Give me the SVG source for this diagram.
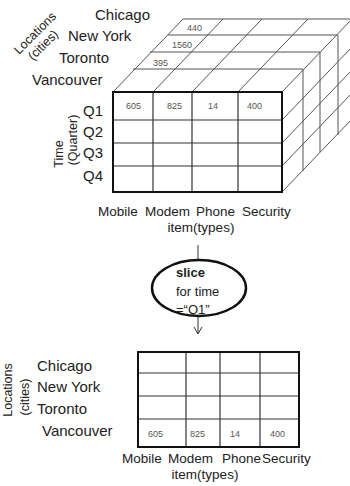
<svg xmlns="http://www.w3.org/2000/svg" width="350" height="486" viewBox="0 0 350 486">
<defs>
<style>
text{font-family:"Liberation Sans",Arial,sans-serif;fill:#222}
.lbl{font-size:15px}
.ax{font-size:12.5px}
.itm{font-size:13.5px}
.val{font-size:9px;fill:#555}
.thin{stroke:#555;stroke-width:1;fill:none}
.grid{stroke:#333;stroke-width:1.2;fill:none}
.frame{stroke:#111;stroke-width:2;fill:none}
.conn{stroke:#333;stroke-width:1;fill:none}
</style>
<marker id="arr" viewBox="0 0 10 10" refX="9" refY="5" markerWidth="10" markerHeight="10" markerUnits="userSpaceOnUse" orient="auto">
<path d="M2,1 L9,5 L2,9" fill="none" stroke="#333" stroke-width="1"/>
</marker>
</defs>
<rect width="350" height="486" fill="#fff"/>

<g id="cube">
<!-- top face -->
<g class="thin">
<line x1="133" y1="69" x2="303" y2="69"/>
<line x1="150" y1="52" x2="320" y2="52"/>
<line x1="168" y1="35" x2="338" y2="35"/>
<line x1="183" y1="19" x2="353" y2="19"/>
<line x1="113" y1="92" x2="183" y2="19"/>
<line x1="153" y1="92" x2="223" y2="19"/>
<line x1="192" y1="92" x2="262" y2="19"/>
<line x1="238" y1="92" x2="308" y2="19"/>
<line x1="282" y1="92" x2="352" y2="19"/>
<!-- right face -->
<line x1="303" y1="69" x2="303" y2="171"/>
<line x1="320" y1="52" x2="320" y2="152"/>
<line x1="338" y1="35" x2="338" y2="135"/>
<line x1="282" y1="120" x2="352" y2="47"/>
<line x1="282" y1="143" x2="352" y2="70"/>
<line x1="282" y1="166" x2="352" y2="93"/>
<line x1="282" y1="192" x2="352" y2="119"/>
</g>
<!-- front face -->
<g class="grid">
<line x1="153" y1="92" x2="153" y2="192"/>
<line x1="192" y1="92" x2="192" y2="192"/>
<line x1="238" y1="92" x2="238" y2="192"/>
<line x1="113" y1="120" x2="282" y2="120"/>
<line x1="113" y1="143" x2="282" y2="143"/>
<line x1="113" y1="166" x2="282" y2="166"/>
</g>
<rect class="frame" x="113" y="92" width="169" height="100"/>
<text class="val" x="187" y="31">440</text>
<text class="val" x="172" y="48">1560</text>
<text class="val" x="153" y="66">395</text>
<text class="val" x="126" y="109">605</text>
<text class="val" x="167" y="109">825</text>
<text class="val" x="208" y="109">14</text>
<text class="val" x="247" y="109">400</text>
</g>

<g id="cube-labels">
<text class="lbl" x="95" y="20">Chicago</text>
<text class="lbl" x="68" y="41">New York</text>
<text class="lbl" x="59" y="63">Toronto</text>
<text class="lbl" x="32" y="85">Vancouver</text>
<text class="ax" text-anchor="middle" transform="translate(38,36) rotate(-45)">Locations</text>
<text class="ax" text-anchor="middle" transform="translate(46,48) rotate(-45)">(cities)</text>
<text class="lbl" x="83" y="116">Q1</text>
<text class="lbl" x="83" y="137">Q2</text>
<text class="lbl" x="83" y="158">Q3</text>
<text class="lbl" x="83" y="181">Q4</text>
<text class="ax" text-anchor="middle" transform="translate(63,154) rotate(-90)">Time</text>
<text class="ax" text-anchor="middle" transform="translate(77,140) rotate(-90)">(Quarter)</text>
<text class="itm" x="98" y="216">Mobile</text>
<text class="itm" x="145" y="216">Modem</text>
<text class="itm" x="196" y="216">Phone</text>
<text class="itm" x="242" y="216">Security</text>
<text class="itm" x="201" y="232" text-anchor="middle">item(types)</text>
</g>

<g id="connectors">
<line class="conn" x1="198" y1="245" x2="198" y2="260"/>
<line class="conn" x1="198" y1="316" x2="198" y2="334" marker-end="url(#arr)"/>
</g>

<g id="slice">
<ellipse cx="199" cy="288" rx="47" ry="28" fill="none" stroke="#111" stroke-width="2.5"/>
<text x="176" y="277" style="font-size:13px;font-weight:bold">slice</text>
<text x="176" y="296" style="font-size:13px">for time</text>
<text x="176" y="314" style="font-size:13px">=“Q1”</text>
</g>

<g id="table">
<g class="grid">
<line x1="186" y1="352" x2="186" y2="447"/>
<line x1="220" y1="352" x2="220" y2="447"/>
<line x1="260" y1="352" x2="260" y2="447"/>
<line x1="138" y1="373" x2="299" y2="373"/>
<line x1="138" y1="396" x2="299" y2="396"/>
<line x1="138" y1="419" x2="299" y2="419"/>
</g>
<rect class="frame" x="138" y="352" width="161" height="95"/>
<text class="val" x="148" y="437">605</text>
<text class="val" x="190" y="437">825</text>
<text class="val" x="230" y="437">14</text>
<text class="val" x="270" y="437">400</text>
</g>

<g id="table-labels">
<text class="lbl" x="37" y="371">Chicago</text>
<text class="lbl" x="37" y="392">New York</text>
<text class="lbl" x="37" y="414">Toronto</text>
<text class="lbl" x="42" y="436">Vancouver</text>
<text class="ax" text-anchor="middle" transform="translate(12,390) rotate(-90)">Locations</text>
<text class="ax" text-anchor="middle" transform="translate(29,397) rotate(-90)">(cities)</text>
<text class="itm" x="122" y="463">Mobile</text>
<text class="itm" x="168" y="463">Modem</text>
<text class="itm" x="222" y="463">Phone</text>
<text class="itm" x="262" y="463">Security</text>
<text class="itm" x="205" y="479" text-anchor="middle">item(types)</text>
</g>
</svg>
